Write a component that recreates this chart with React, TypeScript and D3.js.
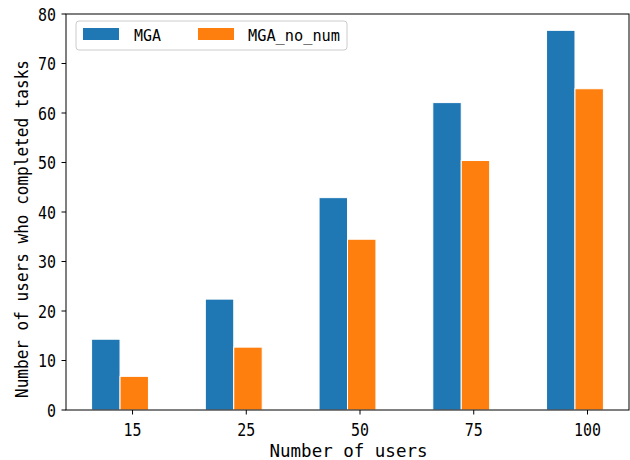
import React from 'react';
import * as d3 from 'd3';

const categories = ['15', '25', '50', '75', '100'];
const mgaValues = [14.3, 22.4, 42.9, 62.1, 76.7];
const noNumValues = [6.8, 12.7, 34.5, 50.4, 64.9];
const yTicks = [0, 10, 20, 30, 40, 50, 60, 70, 80];

const BLUE = '#1f77b4';
const ORANGE = '#ff7f0e';
const FONT = '"DejaVu Sans Mono", monospace';

const W = 630;
const H = 460;
// plot frame
const m = { l: 66, r: 629, t: 14, b: 410 };

const App = () => {
  // bar offsets relative to the tick, in category units
  const bw = 0.25;
  const blueOff = -0.36;
  const orangeOff = blueOff + bw;
  const lo = blueOff;
  const hi = categories.length - 1 + orangeOff + bw;
  const pad = (hi - lo) * 0.05;

  const x = d3.scaleLinear().domain([lo - pad, hi + pad]).range([m.l, m.r]);
  const y = d3.scaleLinear().domain([0, 80]).range([m.b, m.t]);

  const charW = 9; // half-width glyph look

  return (
    <svg width={W} height={H} style={{ position: 'absolute', left: 0, top: 0 }} fontFamily={FONT}>
      <rect width={W} height={H} fill="#fff" />

      {categories.map((c, i) => (
        <g key={c}>
          <rect
            x={x(i + blueOff)}
            y={y(mgaValues[i])}
            width={x(i + blueOff + bw) - x(i + blueOff)}
            height={y(0) - y(mgaValues[i])}
            fill={BLUE}
            stroke="#fff"
            strokeWidth={1}
          />
          <rect
            x={x(i + orangeOff)}
            y={y(noNumValues[i])}
            width={x(i + orangeOff + bw) - x(i + orangeOff)}
            height={y(0) - y(noNumValues[i])}
            fill={ORANGE}
            stroke="#fff"
            strokeWidth={1}
          />
        </g>
      ))}

      {/* frame */}
      <rect x={m.l} y={m.t} width={m.r - m.l} height={m.b - m.t} fill="none" stroke="#000" strokeWidth={1} />

      {/* y ticks */}
      {yTicks.map(t => (
        <g key={t}>
          <line x1={m.l - 4.5} x2={m.l} y1={y(t)} y2={y(t)} stroke="#000" strokeWidth={1} />
          <text
            x={m.l - 10}
            y={y(t) + 6.5}
            fontSize={18}
            textAnchor="end"
            textLength={String(t).length * charW}
            lengthAdjust="spacingAndGlyphs"
            fill="#000"
          >
            {t}
          </text>
        </g>
      ))}

      {/* x ticks */}
      {categories.map((c, i) => (
        <g key={c}>
          <line x1={x(i)} x2={x(i)} y1={m.b} y2={m.b + 4.5} stroke="#000" strokeWidth={1} />
          <text
            x={x(i)}
            y={m.b + 26}
            fontSize={17}
            textAnchor="middle"
            textLength={c.length * charW}
            lengthAdjust="spacingAndGlyphs"
            fill="#000"
          >
            {c}
          </text>
        </g>
      ))}

      {/* axis labels */}
      <text
        x={(m.l + m.r) / 2 + 1}
        y={457}
        fontSize={17}
        textAnchor="middle"
        textLength={158}
        lengthAdjust="spacingAndGlyphs"
        fill="#000"
      >
        Number of users
      </text>
      <text
        transform={`translate(28, ${(m.t + m.b) / 2 + 17}) rotate(-90)`}
        fontSize={18}
        textAnchor="middle"
        textLength={338}
        lengthAdjust="spacingAndGlyphs"
        fill="#000"
      >
        Number of users who completed tasks
      </text>

      {/* legend */}
      <g>
        <rect x={76} y={21} width={271} height={29} rx={3} fill="#fff" fillOpacity={0.8} stroke="#cccccc" strokeWidth={1} />
        <rect x={83} y={28} width={36} height={12} fill={BLUE} />
        <text x={134} y={41} fontSize={16} textLength={27} lengthAdjust="spacingAndGlyphs" fill="#000">
          MGA
        </text>
        <rect x={198} y={28} width={36} height={12} fill={ORANGE} />
        <text x={248} y={41} fontSize={16} textLength={92} lengthAdjust="spacingAndGlyphs" fill="#000">
          MGA_no_num
        </text>
      </g>
    </svg>
  );
};

export default App;
